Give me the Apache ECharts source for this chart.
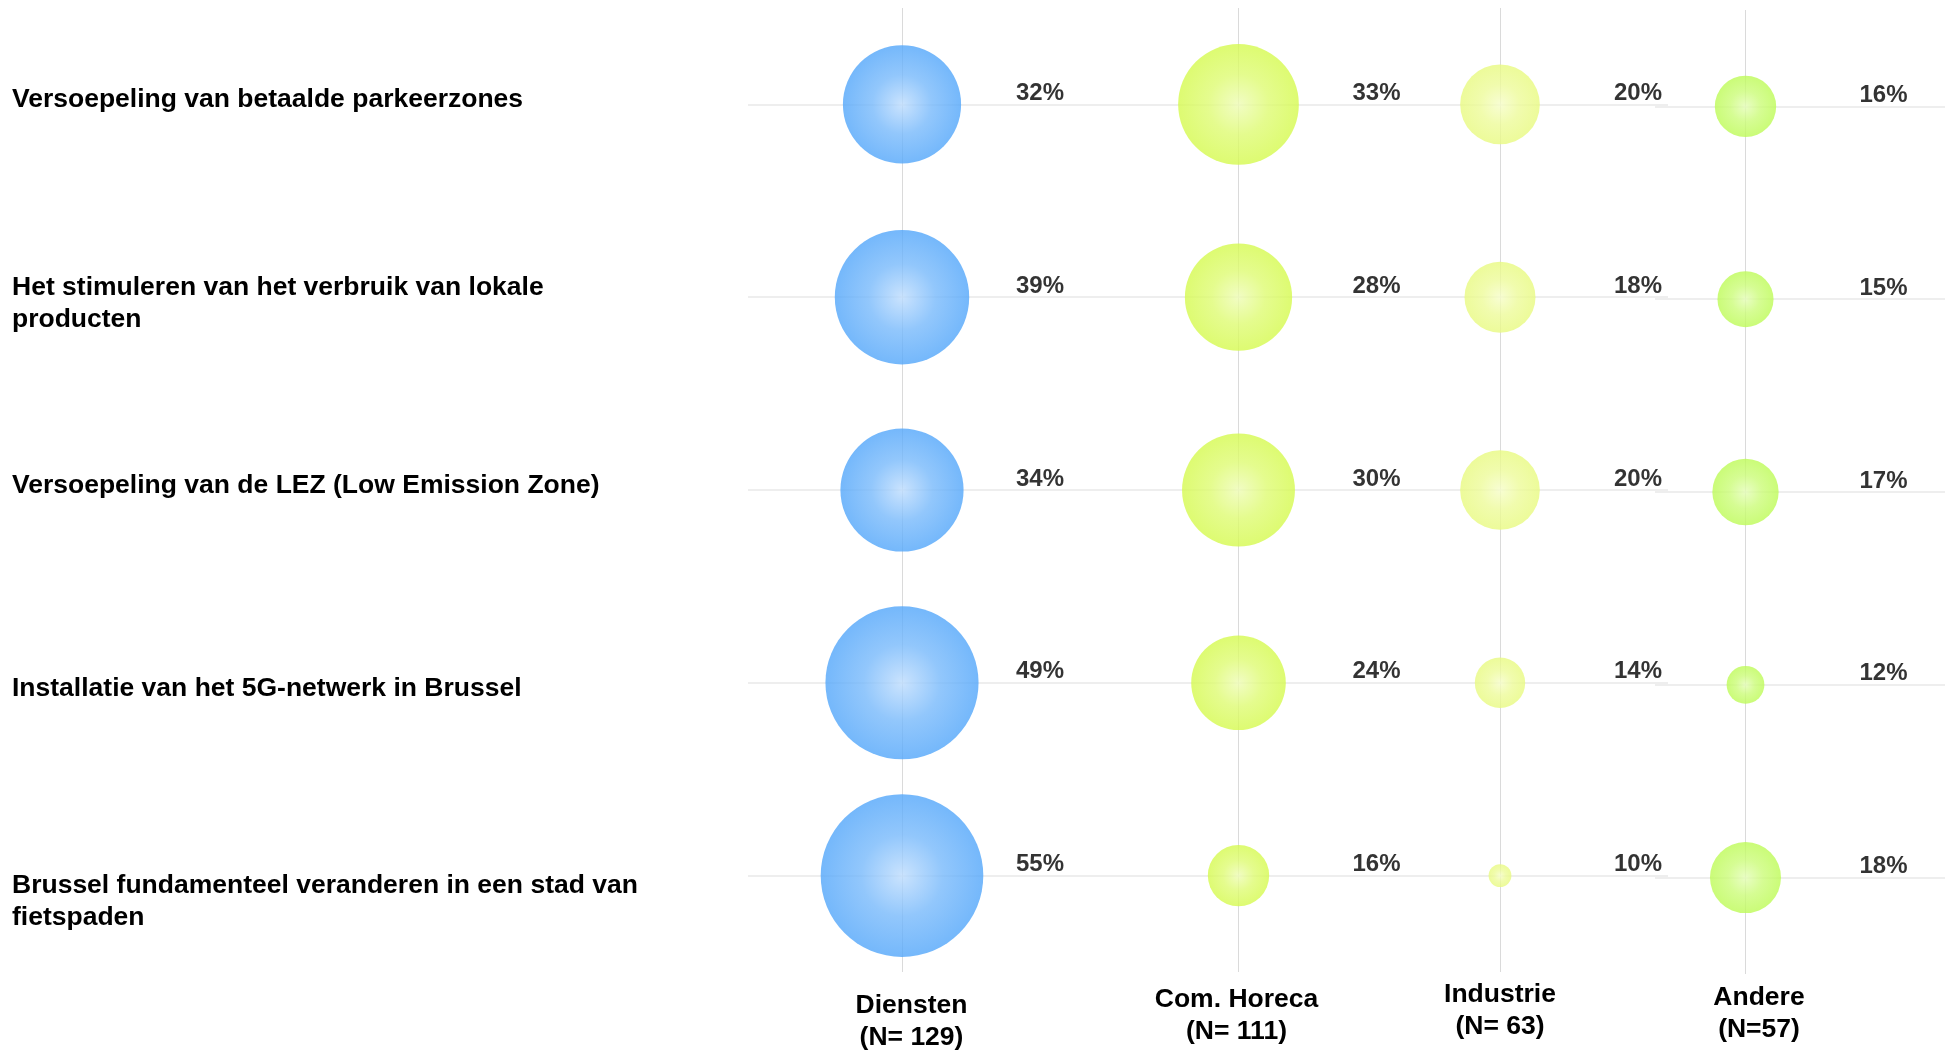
<!DOCTYPE html>
<html>
<head>
<meta charset="utf-8">
<script src="https://cdn.jsdelivr.net/npm/echarts@6/dist/echarts.min.js"></script>
<style>
  html, body { margin: 0; padding: 0; background: #fff; }
  #chart { width: 1945px; height: 1051px; }
</style>
</head>
<body>
<div id="chart"></div>
<script>
// data
const rows = [
  'Versoepeling van betaalde parkeerzones',
  'Het stimuleren van het verbruik van lokale producten',
  'Versoepeling van de LEZ (Low Emission Zone)',
  'Installatie van het 5G-netwerk in Brussel',
  'Brussel fundamenteel veranderen in een stad van fietspaden'
];
const columns = ['Diensten', 'Com. Horeca', 'Industrie', 'Andere'];
const sampleSizes = ['(N= 129)', '(N= 111)', '(N= 63)', '(N=57)'];
const diensten = [32, 39, 34, 49, 55];
const horeca = [33, 28, 30, 24, 16];
const industrie = [20, 18, 20, 14, 10];
const andere = [16, 15, 17, 12, 18];
const values = [diensten, horeca, industrie, andere];

// layout / style
const font = "'Liberation Sans', Arial, sans-serif";
const colCenter = [902, 1238.5, 1500, 1745.5];
const colTop = [8, 8, 8, 10];
const colHalf = 100;
const plotHeight = 964;
const nameMargin = [18, 12, 7, 7.5];
const namePad = [[0, 0, 0, 19], [0, 4, 0, 0], [0, 0, 0, 0], [0, 0, 0, 27]];
const rowLabelShift = [-5, 6, -4, 6, 26];
const bubbleColors = [
  ['#bddcfd', '#77b9fb', '#52a6fa'],
  ['#eefcb5', '#defb72', '#d5fa4e'],
  ['#f6fdc8', '#edfb99', '#e8fa80'],
  ['#e4fdb6', '#cbfc78', '#bdfb56']
];
const bubbleSize = v => 82 * Math.log(v) - 166;

const chart = echarts.init(document.getElementById('chart'));

const band = plotHeight / rows.length;
const grids = [
  // horizontal guide lines behind the first three columns and behind "Andere"
  {left: 748, width: 920, top: colTop[0] + band / 2, height: band * (rows.length - 1), outerBoundsMode: 'none'},
  {left: 1655, right: 0, top: colTop[3] + band / 2, height: band * (rows.length - 1), outerBoundsMode: 'none'}
];
const xAxes = [
  {gridIndex: 0, type: 'value', min: 0, max: 1, show: false},
  {gridIndex: 1, type: 'value', min: 0, max: 1, show: false}
];
const guideY = gi => ({
  gridIndex: gi,
  type: 'category',
  inverse: true,
  boundaryGap: false,
  data: rows,
  axisLine: {show: false},
  axisTick: {show: false},
  axisLabel: {show: false},
  splitLine: {show: true, lineStyle: {color: '#e8e8e8', width: 1.5}}
});
const yAxes = [guideY(0), guideY(1)];
const series = [];

columns.forEach((col, c) => {
  const gi = grids.length;
  grids.push({left: colCenter[c] - colHalf, width: colHalf * 2, top: colTop[c], height: plotHeight, outerBoundsMode: 'none'});
  xAxes.push({
    gridIndex: gi,
    type: 'category',
    boundaryGap: false,
    data: [' ', col, '  '],
    axisLine: {show: false},
    axisTick: {show: false},
    splitLine: {show: true, interval: idx => idx === 1, lineStyle: {color: '#dadada', width: 1}},
    axisLabel: {
      interval: 0,
      margin: nameMargin[c],
      padding: namePad[c],
      formatter: (v, idx) => idx === 1 ? v + '\n' + sampleSizes[c] : '',
      fontFamily: font,
      fontSize: 26.5,
      fontWeight: 'bold',
      lineHeight: 32,
      color: '#000'
    }
  });
  yAxes.push({gridIndex: gi, type: 'category', inverse: true, data: rows, show: false});
  series.push({
    type: 'scatter',
    xAxisIndex: gi,
    yAxisIndex: gi,
    silent: true,
    symbol: 'circle',
    symbolSize: val => bubbleSize(val[2]),
    itemStyle: {
      color: {
        type: 'radial', x: 0.5, y: 0.5, r: 0.5,
        colorStops: [
          {offset: 0, color: bubbleColors[c][0]},
          {offset: 0.5, color: bubbleColors[c][1]},
          {offset: 1, color: bubbleColors[c][2]}
        ]
      }
    },
    label: {
      show: true,
      position: 'inside',
      offset: [138, -11],
      formatter: p => p.value[2] + '%',
      fontFamily: font,
      fontSize: 24,
      fontWeight: 'bold',
      color: '#000'
    },
    data: values[c].map((v, i) => [1, i, v])
  });
});

chart.setOption({
  animation: false,
  backgroundColor: '#fff',
  grid: grids,
  xAxis: xAxes,
  yAxis: yAxes,
  series: series
});

// row names on the left, placed at each category's pixel row
chart.setOption({
  graphic: rows.map((r, i) => ({
    type: 'text',
    silent: true,
    x: 12,
    y: chart.convertToPixel({yAxisIndex: 0}, r) + rowLabelShift[i],
    style: {
      text: r,
      fill: '#000',
      fontFamily: font,
      fontSize: 26.5,
      fontWeight: 'bold',
      lineHeight: 32,
      width: 650,
      overflow: 'break',
      align: 'left',
      verticalAlign: 'middle'
    }
  }))
});
</script>
</body>
</html>
